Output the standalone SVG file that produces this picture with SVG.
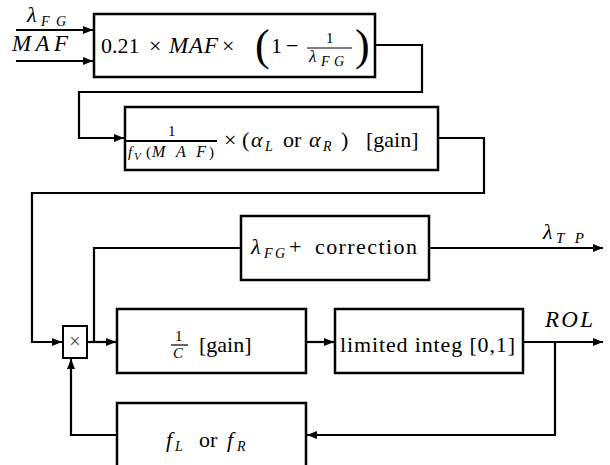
<svg xmlns="http://www.w3.org/2000/svg" width="610" height="465" viewBox="0 0 610 465">
<defs>
<marker id="arr" viewBox="0 0 10 8" refX="10" refY="4" markerWidth="10" markerHeight="8" markerUnits="userSpaceOnUse" orient="auto">
<path d="M0,0 L10,4 L0,8 Z" fill="#000"/>
</marker>
<style>
text{font-family:"Liberation Serif","DejaVu Serif","Noto Serif",Tinos,"Times New Roman",Times,serif;fill:#000}
.box{fill:#fff;stroke:#000;stroke-width:2.5}
.ln{fill:none;stroke:#000;stroke-width:2.2}
.bar{stroke:#000;stroke-width:1.2}
.t{font-size:22px}
.i{font-style:italic}
.s{font-size:15px}
.ss{font-size:14px;font-style:italic}
</style>
</defs>
<rect width="610" height="465" fill="#fff"/>
<g id="connectors">
<path class="ln" d="M16,30 H93" marker-end="url(#arr)"/>
<path class="ln" d="M16,61 H93" marker-end="url(#arr)"/>
<path class="ln" d="M375,45 H422 V92 H79 V138 H124" marker-end="url(#arr)"/>
<path class="ln" d="M438,138 H484 V193 H32 V342 H62" marker-end="url(#arr)"/>
<path class="ln" d="M87,342 H116" marker-end="url(#arr)"/>
<path class="ln" d="M94,342 V248 H241"/>
<path class="ln" d="M429,248 H603" marker-end="url(#arr)"/>
<path class="ln" d="M306,342 H334" marker-end="url(#arr)"/>
<path class="ln" d="M523,342 H603" marker-end="url(#arr)"/>
<path class="ln" d="M555,342 V435 H307" marker-end="url(#arr)"/>
<path class="ln" d="M117,435 H71 V359" marker-end="url(#arr)"/>
<text class="t i" x="27" y="22">λ</text><text class="ss" x="41" y="26" textLength="25" lengthAdjust="spacing">FG</text>
<text class="i" x="12" y="51" style="font-size:23px" textLength="56" lengthAdjust="spacing">MAF</text>
<text class="t i" x="543" y="239">λ</text><text class="ss" x="556" y="243" style="font-size:15px" textLength="28" lengthAdjust="spacing">TP</text>
<text class="i" x="545" y="327" style="font-size:23px" textLength="48" lengthAdjust="spacing">ROL</text>
</g>
<g id="box1">
<rect class="box" x="94" y="14" width="281" height="63"/>
<text class="t" x="101" y="53">0.21</text>
<text class="t" x="149" y="53">×</text>
<text class="i" x="169" y="53" style="font-size:23px" textLength="49" lengthAdjust="spacing">MAF</text>
<text class="t" x="222" y="53">×</text>
<text x="255" y="60" style="font-size:44px">(</text>
<text class="t" x="271" y="53">1</text>
<text class="t" x="286" y="53">−</text>
<text class="s" x="326" y="43">1</text>
<line class="bar" x1="307" y1="48" x2="352" y2="48"/>
<text class="i" x="309" y="62" style="font-size:17px">λ</text><text class="ss" x="321" y="66" textLength="23" lengthAdjust="spacing">FG</text>
<text x="355" y="60" style="font-size:44px">)</text>
</g>
<g id="box2">
<rect class="box" x="125" y="107" width="313" height="63"/>
<text class="s" x="168" y="136">1</text>
<line class="bar" x1="126" y1="141" x2="217" y2="141" style="stroke-width:2"/>
<text class="s i" x="128" y="157">f</text><text class="ss" x="134" y="160" style="font-size:11px">V</text>
<text class="s" x="146" y="157">(</text><text class="i" x="152" y="157" style="font-size:16px" textLength="54" lengthAdjust="spacing">MAF</text><text class="s" x="209" y="157">)</text>
<text class="t" x="224" y="147">×</text>
<text class="t" x="242" y="147">(</text>
<text class="t i" x="251" y="147">α</text><text class="ss" x="265" y="151">L</text>
<text class="t" x="283" y="147">or</text>
<text class="t i" x="309" y="147">α</text><text class="ss" x="323" y="151">R</text>
<text class="t" x="341" y="147">)</text>
<text class="t" x="366" y="147">[gain]</text>
</g>
<g id="correction">
<rect class="box" x="241" y="216" width="188" height="64"/>
<text class="t i" x="251" y="254">λ</text><text class="ss" x="264" y="258" textLength="21" lengthAdjust="spacing">FG</text>
<text class="t" x="289" y="254">+</text>
<text class="t" x="315" y="254" textLength="102" lengthAdjust="spacing">correction</text>
</g>
<g id="multiplier">
<rect class="box" x="63" y="326" width="24" height="32" style="stroke-width:2"/>
<text x="75" y="348" text-anchor="middle" style="font-size:20px;fill:#444">×</text>
</g>
<g id="gain">
<rect class="box" x="117" y="309" width="189" height="64"/>
<text class="s" x="175" y="341">1</text>
<line class="bar" x1="171" y1="345" x2="188" y2="345"/>
<text class="s i" x="173" y="358">C</text>
<text class="t" x="199" y="352">[gain]</text>
</g>
<g id="integ">
<rect class="box" x="335" y="309" width="188" height="64"/>
<text class="t" x="340" y="352" textLength="175" lengthAdjust="spacing">limited integ [0,1]</text>
</g>
<g id="flfr">
<path class="box" d="M117,470 V403 H306 V470" style="fill:#fff"/>
<text class="t i" x="166" y="447">f</text><text class="ss" x="175" y="451">L</text>
<text class="t" x="199" y="447">or</text>
<text class="t i" x="227" y="447">f</text><text class="ss" x="237" y="451">R</text>
</g>
</svg>
